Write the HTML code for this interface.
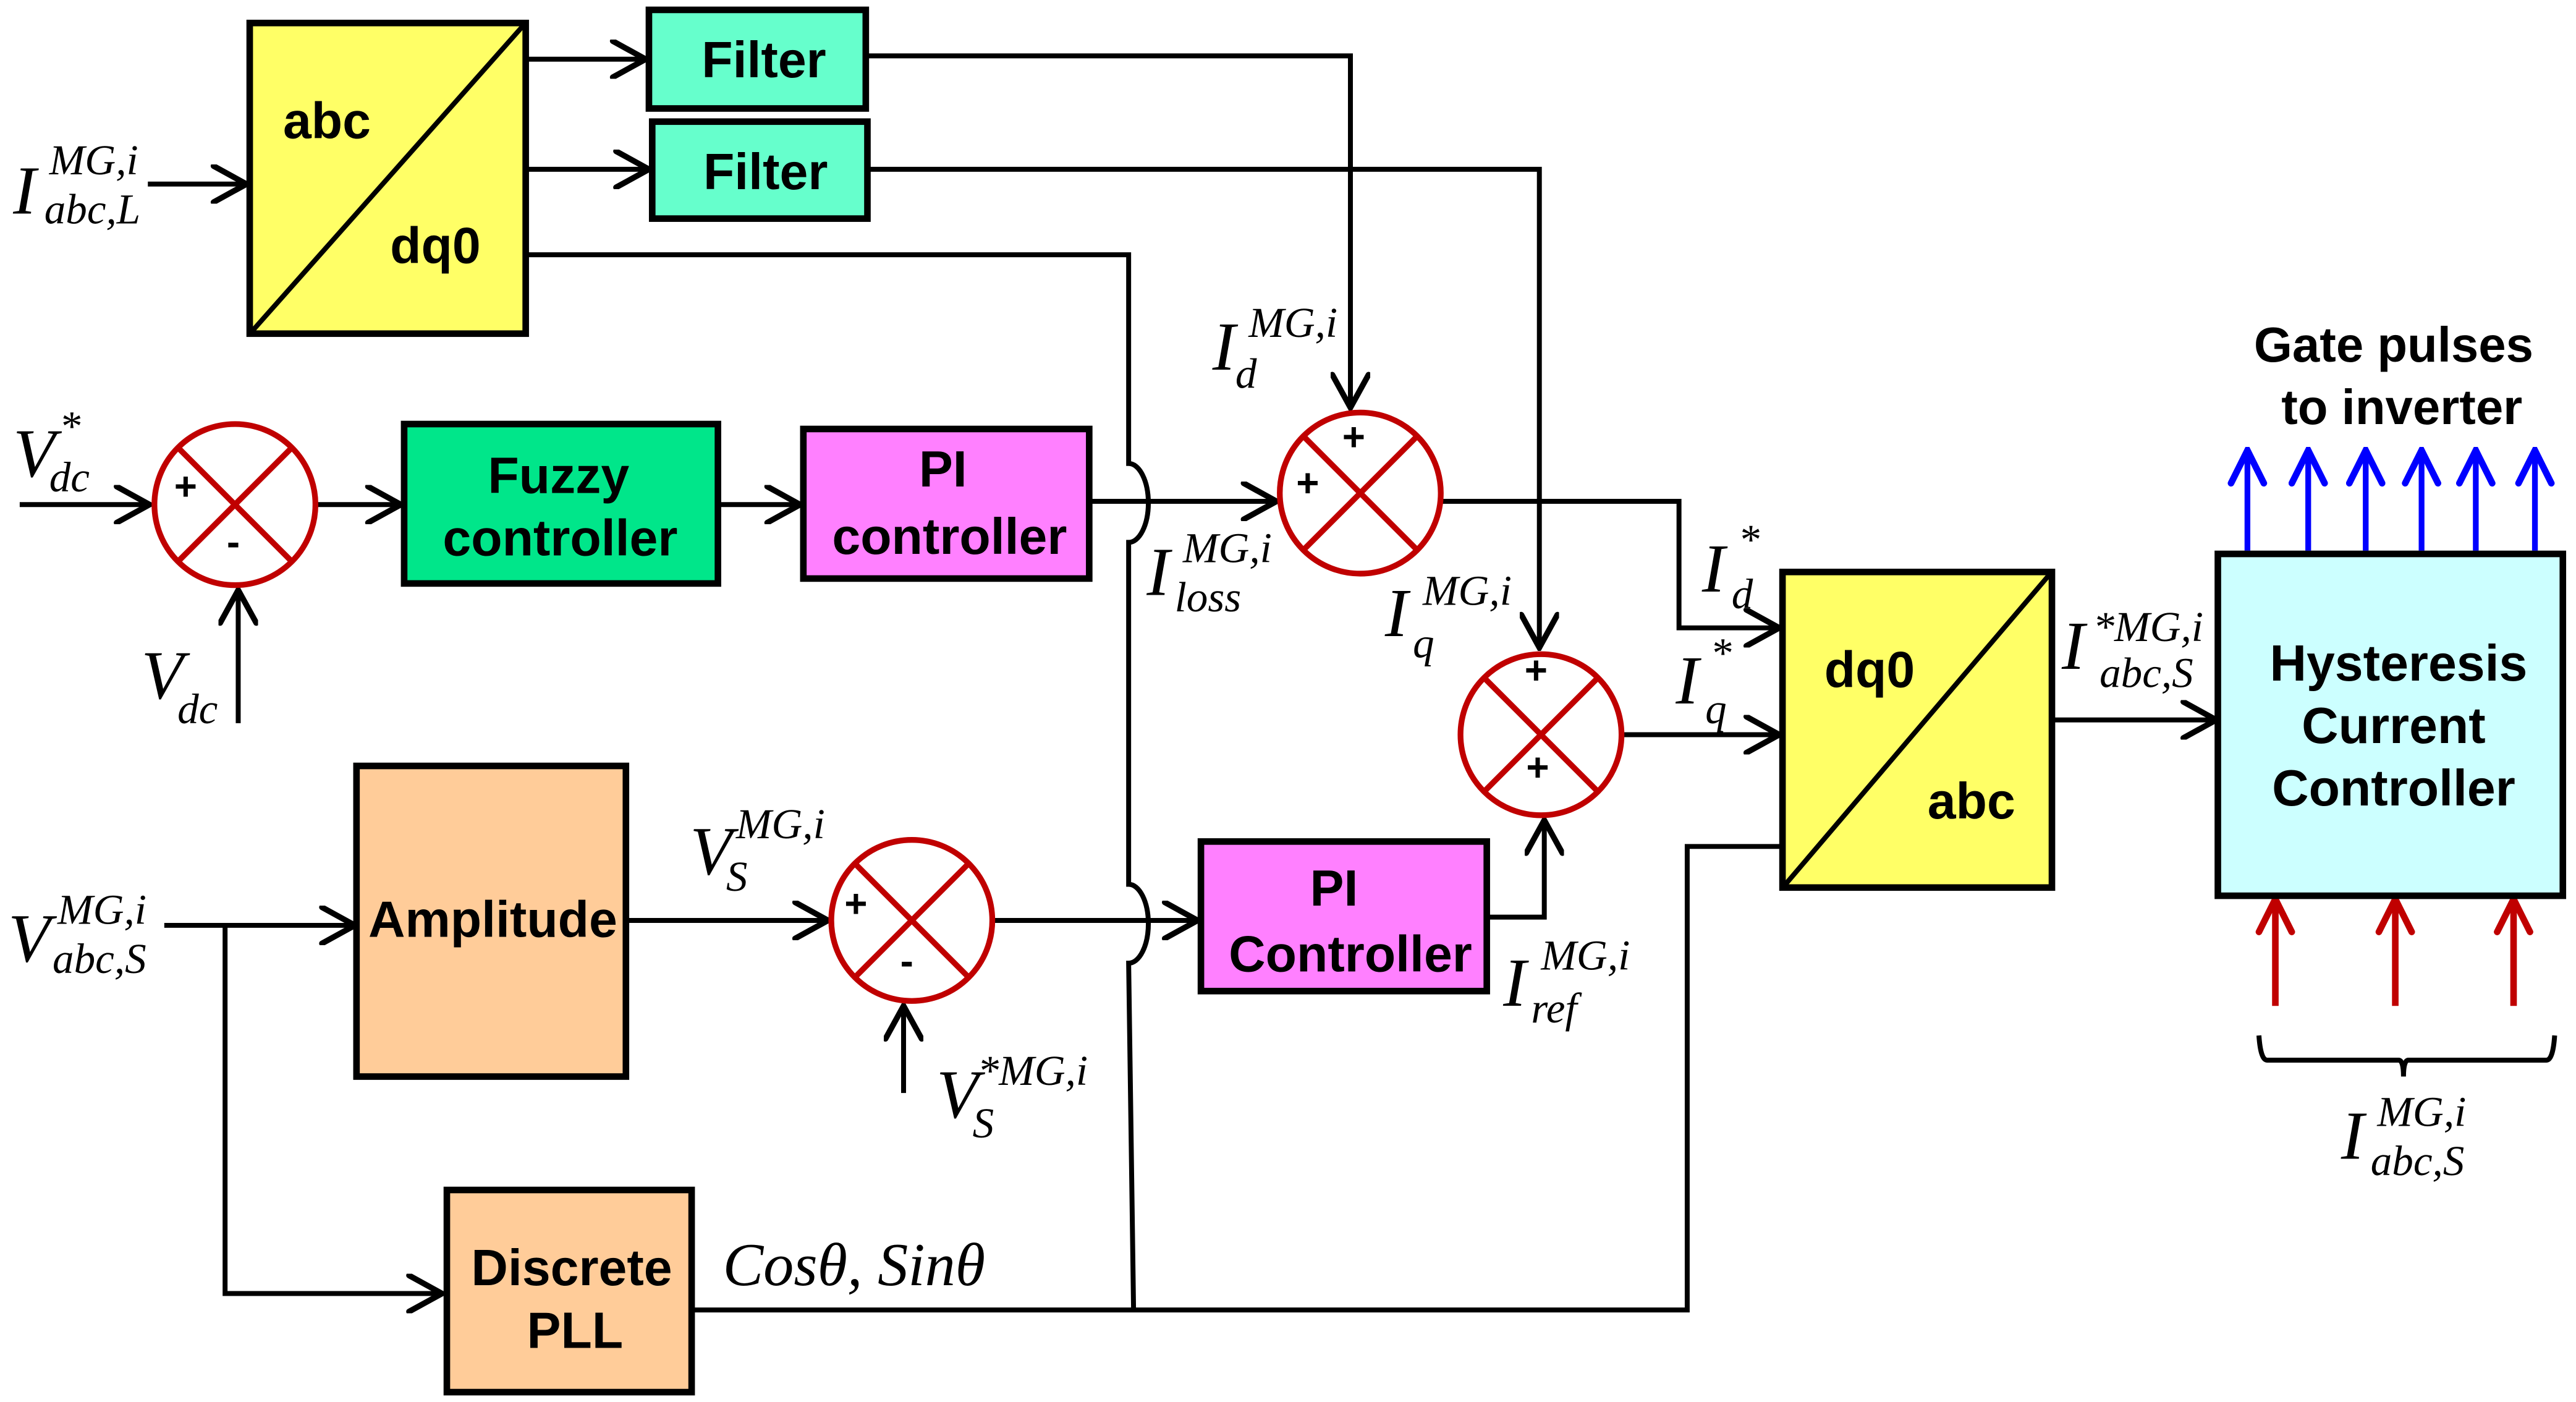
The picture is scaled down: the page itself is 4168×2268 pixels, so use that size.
<!DOCTYPE html>
<html><head><meta charset="utf-8"><style>html,body{margin:0;padding:0;background:#fff}svg{display:block}</style></head><body>
<svg width="4168" height="2268" viewBox="0 0 1568 853" preserveAspectRatio="none" xmlns="http://www.w3.org/2000/svg">
<defs>
<marker id="ab" viewBox="0 0 24 24" markerWidth="24" markerHeight="24" refX="22" refY="12" orient="auto" markerUnits="userSpaceOnUse"><path d="M2,1 L22,12 L2,23" fill="none" stroke="#000" stroke-width="3.5" stroke-linecap="round"/></marker>
<marker id="bl" viewBox="0 0 24 24" markerWidth="24" markerHeight="24" refX="22" refY="12" orient="auto" markerUnits="userSpaceOnUse"><path d="M2,2 L22,12 L2,22" fill="none" stroke="#0000ff" stroke-width="4" stroke-linecap="round"/></marker>
<marker id="rd" viewBox="0 0 24 24" markerWidth="24" markerHeight="24" refX="22" refY="12" orient="auto" markerUnits="userSpaceOnUse"><path d="M2,2 L22,12 L2,22" fill="none" stroke="#c00000" stroke-width="4" stroke-linecap="round"/></marker>
</defs>
<g stroke="#000" stroke-width="3" fill="none">
<line x1="90" y1="112" x2="150" y2="112" marker-end="url(#ab)"/>
<line x1="320" y1="36" x2="393" y2="36" marker-end="url(#ab)"/>
<line x1="320" y1="103" x2="395" y2="103" marker-end="url(#ab)"/>
<polyline points="527,34 822,34 822,248" marker-end="url(#ab)"/>
<polyline points="528,103 937,103 937,394" marker-end="url(#ab)"/>
<path d="M320,155 L687,155 L687,282 A12,24 0 0 1 687,330 L687,538 A12,24 0 0 1 687,586 L690,797"/>
<line x1="12" y1="307" x2="91" y2="307" marker-end="url(#ab)"/>
<line x1="193" y1="307" x2="244" y2="307" marker-end="url(#ab)"/>
<line x1="145" y1="440" x2="145" y2="359" marker-end="url(#ab)"/>
<line x1="437" y1="307" x2="487" y2="307" marker-end="url(#ab)"/>
<line x1="663" y1="305" x2="777" y2="305" marker-end="url(#ab)"/>
<polyline points="878,305 1022,305 1022,382 1083,382" marker-end="url(#ab)"/>
<line x1="988" y1="447" x2="1083" y2="447" marker-end="url(#ab)"/>
<line x1="1249" y1="438" x2="1349" y2="438" marker-end="url(#ab)"/>
<line x1="100" y1="563" x2="216" y2="563" marker-end="url(#ab)"/>
<polyline points="137,563 137,787 269,787" marker-end="url(#ab)"/>
<line x1="381" y1="560" x2="504" y2="560" marker-end="url(#ab)"/>
<line x1="550" y1="665" x2="550" y2="612" marker-end="url(#ab)"/>
<line x1="605" y1="560" x2="729" y2="560" marker-end="url(#ab)"/>
<polyline points="905,558 940,558 940,499" marker-end="url(#ab)"/>
<polyline points="421,797 1027,797 1027,515 1085,515"/>
<path d="M1375,630 Q1376,645 1380,645 L1460,645 Q1463,645 1463,655 Q1463,645 1466,645 L1550,645 Q1554,645 1555,630" stroke-width="3"/>
</g>
<g stroke="#0000ff" stroke-width="3.5">
<line x1="1368" y1="335" x2="1368" y2="274" marker-end="url(#bl)"/>
<line x1="1405" y1="335" x2="1405" y2="274" marker-end="url(#bl)"/>
<line x1="1440" y1="335" x2="1440" y2="274" marker-end="url(#bl)"/>
<line x1="1474" y1="335" x2="1474" y2="274" marker-end="url(#bl)"/>
<line x1="1507" y1="335" x2="1507" y2="274" marker-end="url(#bl)"/>
<line x1="1543" y1="335" x2="1543" y2="274" marker-end="url(#bl)"/>
</g>
<g stroke="#c00000" stroke-width="4">
<line x1="1385" y1="612" x2="1385" y2="547" marker-end="url(#rd)"/>
<line x1="1458" y1="612" x2="1458" y2="547" marker-end="url(#rd)"/>
<line x1="1530" y1="612" x2="1530" y2="547" marker-end="url(#rd)"/>
</g>
<g stroke="#000" stroke-width="4">
<rect x="152" y="14" width="168" height="189" fill="#ffff66"/>
<line x1="153" y1="202" x2="319" y2="15" stroke-width="3"/>
<rect x="395" y="6" width="132" height="60" fill="#66ffcc"/>
<rect x="397" y="74" width="131" height="59" fill="#66ffcc"/>
<rect x="246" y="258" width="191" height="97" fill="#00e68a"/>
<rect x="489" y="261" width="174" height="91" fill="#ff80ff"/>
<rect x="1085" y="348" width="164" height="192" fill="#ffff66"/>
<line x1="1086" y1="539" x2="1248" y2="349" stroke-width="3"/>
<rect x="1350" y="337" width="210" height="208" fill="#ccffff"/>
<rect x="217" y="466" width="164" height="189" fill="#ffcc99"/>
<rect x="731" y="512" width="174" height="91" fill="#ff80ff"/>
<rect x="272" y="724" width="149" height="123" fill="#ffcc99"/>
</g>
<g stroke="#c00000" stroke-width="3.5" fill="#fff">
<circle cx="143" cy="307" r="49"/><path d="M108,272 L178,342 M178,272 L108,342"/>
<circle cx="828" cy="300" r="49"/><path d="M793,265 L863,335 M863,265 L793,335"/>
<circle cx="938" cy="447" r="49"/><path d="M903,412 L973,482 M973,412 L903,482"/>
<circle cx="555" cy="560" r="49"/><path d="M520,525 L590,595 M590,525 L520,595"/>
</g>
<g font-family="Liberation Sans, sans-serif" font-weight="bold" font-size="24" fill="#000" text-anchor="middle">
<text x="113" y="304">+</text><text x="142" y="338">-</text>
<text x="824" y="274">+</text><text x="796" y="302">+</text>
<text x="935" y="416">+</text><text x="936" y="475">+</text>
<text x="521" y="558">+</text><text x="552" y="593">-</text>
</g>
<g font-family="Liberation Sans, sans-serif" font-weight="bold" font-size="31" fill="#000" text-anchor="middle">
<text x="199" y="84">abc</text><text x="265" y="160">dq0</text>
<text x="465" y="47">Filter</text><text x="466" y="115">Filter</text>
<text x="340" y="300">Fuzzy</text><text x="341" y="338">controller</text>
<text x="574" y="296">PI</text><text x="578" y="337">controller</text>
<text x="1138" y="418">dq0</text><text x="1200" y="498">abc</text>
<text x="1460" y="414">Hysteresis</text><text x="1457" y="452">Current</text><text x="1457" y="490">Controller</text>
<text x="1457" y="220" font-size="30">Gate pulses</text><text x="1462" y="258" font-size="30">to inverter</text>
<text x="300" y="570">Amplitude</text>
<text x="812" y="551">PI</text><text x="822" y="591">Controller</text>
<text x="348" y="782">Discrete</text><text x="350" y="820">PLL</text>
</g>
<g font-family="Liberation Serif, serif" font-style="italic" fill="#000">
<g font-size="42"><text x="8" y="130">I</text><text x="8" y="290">V</text><text x="86" y="425">V</text>
<text x="738" y="225">I</text><text x="698" y="362">I</text><text x="843" y="387">I</text>
<text x="1036" y="360">I</text><text x="1020" y="428">I</text><text x="1255" y="407">I</text>
<text x="5" y="585">V</text><text x="420" y="532">V</text><text x="570" y="680">V</text>
<text x="915" y="612">I</text><text x="1425" y="705">I</text></g>
<g font-size="26">
<text x="30" y="106">MG,i</text><text x="27" y="136">abc,L</text>
<text x="36" y="268">*</text><text x="30" y="299">dc</text>
<text x="108" y="440">dc</text>
<text x="760" y="205">MG,i</text><text x="752" y="236">d</text>
<text x="720" y="342">MG,i</text><text x="715" y="372">loss</text>
<text x="866" y="368">MG,i</text><text x="860" y="400">q</text>
<text x="1058" y="337">*</text><text x="1054" y="370">d</text>
<text x="1041" y="406">*</text><text x="1038" y="440">q</text>
<text x="1274" y="390">*MG,i</text><text x="1278" y="418">abc,S</text>
<text x="35" y="562">MG,i</text><text x="32" y="592">abc,S</text>
<text x="448" y="510">MG,i</text><text x="442" y="542">S</text>
<text x="595" y="660">*MG,i</text><text x="592" y="692">S</text>
<text x="938" y="590">MG,i</text><text x="932" y="622">ref</text>
<text x="1447" y="685">MG,i</text><text x="1443" y="715">abc,S</text>
</g>
<text x="440" y="782" font-size="37">Cosθ, Sinθ</text>
</g>
</svg>
</body></html>
